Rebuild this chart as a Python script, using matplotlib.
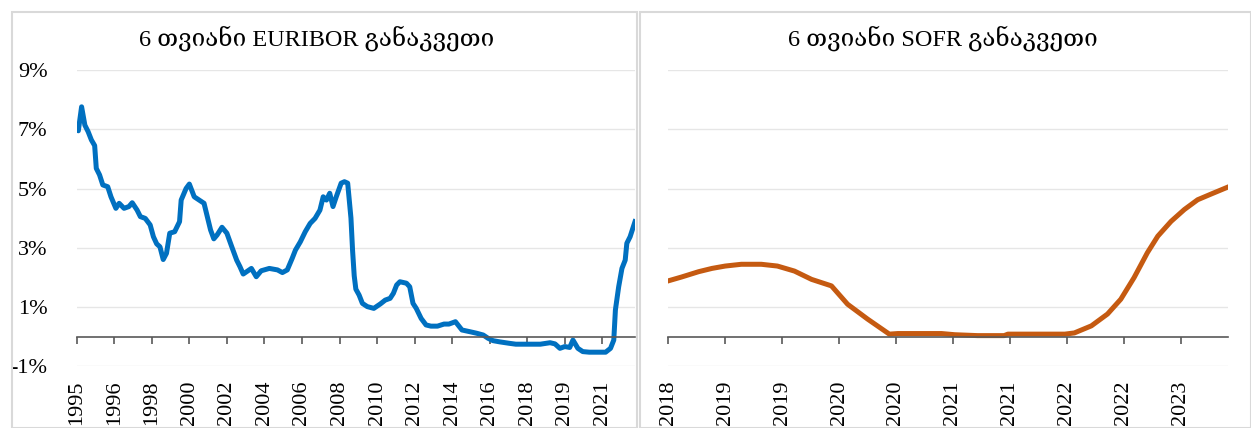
import numpy as np
import matplotlib
matplotlib.use('Agg')
import matplotlib.pyplot as plt
from matplotlib.patches import Rectangle

# 6-month EURIBOR, monthly categories starting Jan 1995 (month index, %)
euribor_month = [0, 1, 3, 5, 7, 9, 11, 12, 14, 16, 19, 21, 24, 26, 29, 32, 34, 37, 39, 42,
                 45, 47, 49, 51, 53, 55, 57, 60, 63, 64, 67, 69, 72, 75, 78, 80, 82, 84, 86, 89,
                 92, 95, 98, 100, 102, 107, 110, 113, 118, 123, 126, 129, 132, 134, 137, 140, 143, 146, 149, 151,
                 153, 155, 157, 159, 162, 164, 166, 168, 169, 170, 171, 173, 175, 178, 182, 186, 189, 192, 194, 196,
                 198, 202, 204, 206, 208, 211, 214, 217, 221, 225, 228, 232, 236, 241, 245, 249, 252, 255, 259, 265,
                 269, 284, 290, 293, 296, 299, 302, 304, 307, 310, 314, 324, 327, 329, 330, 332, 334, 336, 337, 339,
                 342]
euribor_rate = [7.05, 6.95, 7.76, 7.14, 6.92, 6.64, 6.45, 5.68, 5.46, 5.12, 5.06, 4.72, 4.33, 4.5, 4.33, 4.39, 4.52, 4.27, 4.05, 3.99,
                3.77, 3.37, 3.13, 3.03, 2.6, 2.81, 3.49, 3.54, 3.88, 4.61, 5.0, 5.15, 4.72, 4.61, 4.5, 4.05, 3.6, 3.3, 3.43, 3.69,
                3.49, 3.03, 2.58, 2.36, 2.11, 2.3, 2.02, 2.22, 2.3, 2.25, 2.16, 2.25, 2.64, 2.92, 3.2, 3.54, 3.82, 3.99, 4.27, 4.72,
                4.61, 4.84, 4.39, 4.72, 5.18, 5.23, 5.18, 4.0, 2.9, 2.05, 1.6, 1.4, 1.12, 1.01, 0.95, 1.1, 1.23, 1.29, 1.46, 1.74,
                1.85, 1.8, 1.68, 1.12, 0.95, 0.61, 0.39, 0.35, 0.35, 0.42, 0.42, 0.5, 0.22, 0.16, 0.11, 0.05, -0.06, -0.14, -0.18, -0.23,
                -0.26, -0.26, -0.21, -0.25, -0.4, -0.34, -0.37, -0.12, -0.4, -0.51, -0.53, -0.53, -0.4, -0.12, 0.9, 1.68, 2.3, 2.58, 3.15, 3.37,
                3.88]
euribor_ticklabels = ['1995', '1996', '1998', '2000', '2002', '2004', '2006', '2008',
                      '2010', '2012', '2014', '2016', '2018', '2019', '2021']

# 6-month SOFR, monthly categories starting Jul 2018 (month index, %)
sofr_month = [0, 1.4, 3.2, 4.6, 6, 7.7, 9.8, 11.5, 13.3, 15.1, 17.2, 18.9, 21, 23.3, 24.2, 28.8,
              30.2, 32.6, 35.4, 35.8, 41.8, 42.8, 44.6, 46.3, 47.7, 49.1, 50.5, 51.6, 53, 54.4,
              55.8, 57.2, 59]
sofr_rate = [1.88, 2.01, 2.19, 2.3, 2.38, 2.44, 2.44, 2.38, 2.21, 1.93, 1.71, 1.09, 0.59, 0.08, 0.1, 0.1,
             0.06, 0.03, 0.03, 0.08, 0.08, 0.12, 0.36, 0.76, 1.26, 1.99, 2.83, 3.39, 3.89, 4.29,
             4.62, 4.81, 5.05]
sofr_ticklabels = ['2018', '2019', '2019', '2020', '2020', '2021', '2021', '2022', '2022', '2023']

yticks = [-1, 1, 3, 5, 7, 9]

serif = ['Liberation Serif', 'DejaVu Serif']
W, H = 1251, 428
fig = plt.figure(figsize=(W / 100, H / 100), dpi=100)

# light grey panel frames
for x0, x1 in [(12, 637), (640, 1251)]:
    fig.patches.append(Rectangle((x0 / W, 0), (x1 - x0) / W, (H - 12) / H,
                                 transform=fig.transFigure, fill=False,
                                 edgecolor='#d9d9d9', linewidth=1.5))

bottom = 1 - 366.1 / H
top = 1 - 70.1 / H
ax1 = fig.add_axes([76.7 / W, bottom, (635 - 76.7) / W, top - bottom])
ax2 = fig.add_axes([668.3 / W, bottom, (1228 - 668.3) / W, top - bottom])


def style(ax, xmax, step, labels, title, title_x):
    ax.set_ylim(-1, 9)
    ax.set_xlim(0, xmax)
    ax.set_yticks(yticks)
    for y in yticks:
        ax.axhline(y, color='#e6e6e6', linewidth=1, zorder=0)
    for s in ['top', 'right', 'left']:
        ax.spines[s].set_visible(False)
    ax.spines['bottom'].set_position(('data', 0))
    ax.spines['bottom'].set_color('#595959')
    ax.spines['bottom'].set_linewidth(1.2)
    ax.set_xticks(np.arange(len(labels)) * step)
    ax.set_xticklabels(labels, rotation=90, fontsize=16, family=serif, va='top')
    ax.tick_params(axis='x', direction='out', length=5, width=1.2, color='#595959', pad=27)
    ax.tick_params(axis='y', length=0, pad=21)
    # title sits ~24 px above the plot area
    ax.text(title_x, 1.0 + 24 / (H * (top - bottom)), title, transform=ax.transAxes,
            ha='center', va='baseline', fontsize=17.5, family=serif)


style(ax1, 342, 23, euribor_ticklabels, '6 თვიანი EURIBOR განაკვეთი', 0.43)
ax1.set_yticklabels([f'{v}%' for v in yticks], fontsize=16, family=serif)
ax1.plot(euribor_month, euribor_rate, color='#0070C0', linewidth=3.6, solid_joinstyle='round')

style(ax2, 59, 6, sofr_ticklabels, '6 თვიანი SOFR განაკვეთი', 0.49)
ax2.set_yticklabels([])
ax2.plot(sofr_month, sofr_rate, color='#C55A11', linewidth=3.6, solid_joinstyle='round')

fig.savefig('out.png', dpi=100)
